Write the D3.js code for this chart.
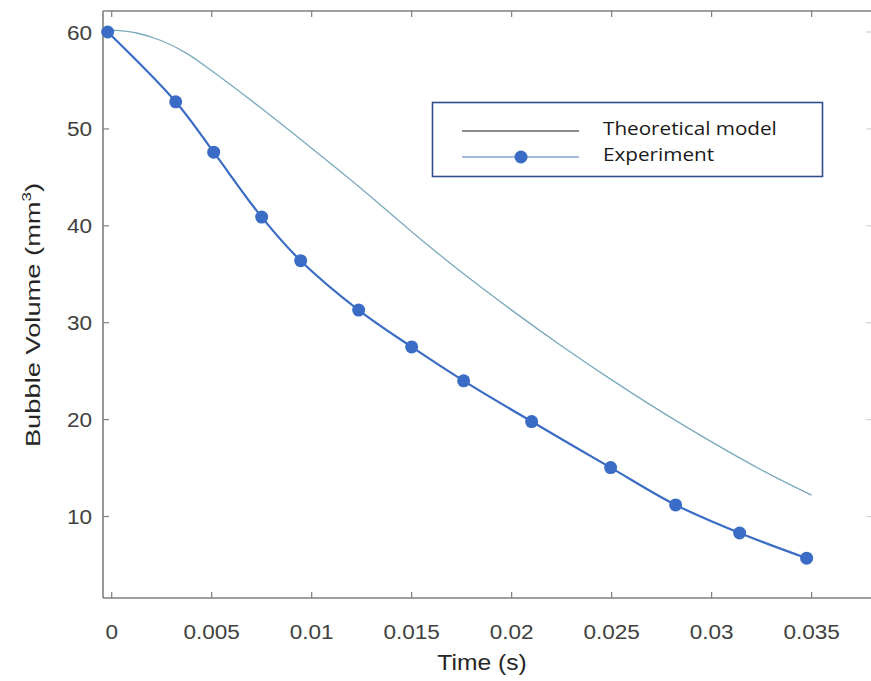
<!DOCTYPE html>
<html>
<head>
<meta charset="utf-8">
<script src="https://cdn.jsdelivr.net/npm/d3@7"></script>
<style>
  body { margin: 0; background: #fff; }
  svg { display: block; }
</style>
</head>
<body>
<svg id="chart" width="871" height="681"></svg>
<script>
// experiment points (time s, volume mm3)
var expTime = [-0.0002, 0.0032, 0.0051, 0.0075, 0.00945, 0.01235, 0.015, 0.0176, 0.021, 0.02495, 0.0282, 0.0314, 0.03475];
var expVol  = [60.0, 52.8, 47.6, 40.9, 36.4, 31.3, 27.5, 24.0, 19.8, 15.05, 11.2, 8.3, 5.7];

// theoretical model curve
var modelTime = [0, 0.00125, 0.0025, 0.00375, 0.005, 0.0075, 0.01, 0.0125, 0.015, 0.0175, 0.02, 0.0225, 0.025, 0.0275, 0.03, 0.0325, 0.035];
var modelVol  = [60.2, 59.9, 59.1, 57.8, 56.0, 52.1, 48.0, 43.8, 39.4, 35.2, 31.3, 27.6, 24.1, 20.8, 17.7, 14.8, 12.2];

var xTicks = [0, 0.005, 0.01, 0.015, 0.02, 0.025, 0.03, 0.035];
var yTicks = [10, 20, 30, 40, 50, 60];
var legendLabels = ["Theoretical model", "Experiment"];

var svg = d3.select("#chart");
var pLeft = 103, pRight = 873, pTop = 11, pBottom = 598;

var x = d3.scaleLinear().domain([-0.000435, 0.03807]).range([pLeft, pRight]);
var y = d3.scaleLinear().domain([1.59, 62.17]).range([pBottom, pTop]);

var axisColor = "#7f7f7f";
var tickFont = "Liberation Sans, Arial, sans-serif";

// frame lines
var frame = svg.append("g").attr("stroke", axisColor).attr("stroke-width", 1.6).attr("fill", "none");
frame.append("line").attr("x1", pLeft).attr("x2", pRight).attr("y1", pBottom).attr("y2", pBottom);
frame.append("line").attr("x1", pLeft).attr("x2", pRight).attr("y1", pTop).attr("y2", pTop);
frame.append("line").attr("x1", pLeft).attr("x2", pLeft).attr("y1", pTop).attr("y2", pBottom);

// ticks (inward)
var tk = svg.append("g").attr("stroke", axisColor).attr("stroke-width", 1.2);
xTicks.forEach(function (t) {
    tk.append("line").attr("x1", x(t)).attr("x2", x(t)).attr("y1", pBottom).attr("y2", pBottom - 6);
    tk.append("line").attr("x1", x(t)).attr("x2", x(t)).attr("y1", pTop).attr("y2", pTop + 6);
});
yTicks.forEach(function (v) {
    tk.append("line").attr("x1", pLeft).attr("x2", pLeft + 6).attr("y1", y(v)).attr("y2", y(v));
    tk.append("line").attr("x1", 871).attr("x2", 866).attr("y1", y(v)).attr("y2", y(v)).attr("stroke-opacity", 0.35);
});

// tick labels (slightly stretched horizontally like the source image)
svg.append("g").selectAll("text").data(xTicks).join("text")
    .attr("transform", function (d) { return "translate(" + x(d) + ",639) scale(1.1,1)"; })
    .attr("text-anchor", "middle")
    .attr("font-family", tickFont).attr("font-size", 20.5).attr("fill", "#404040")
    .text(function (d) { return d3.format("")(d); });

svg.append("g").selectAll("text").data(yTicks).join("text")
    .attr("transform", function (d) { return "translate(92," + (y(d) + 7.5) + ") scale(1.1,1)"; })
    .attr("text-anchor", "end")
    .attr("font-family", tickFont).attr("font-size", 20.5).attr("fill", "#404040")
    .text(function (d) { return d; });

// axis titles
svg.append("text")
    .attr("transform", "translate(482,670) scale(1.12,1)")
    .attr("text-anchor", "middle")
    .attr("font-family", tickFont).attr("font-size", 22).attr("fill", "#262626")
    .text("Time (s)");

var yl = svg.append("text")
    .attr("transform", "translate(40,315) rotate(-90) scale(1.3,1)")
    .attr("text-anchor", "middle")
    .attr("font-family", tickFont).attr("font-size", 21).attr("fill", "#262626");
yl.append("tspan").text("Bubble Volume (mm");
yl.append("tspan").attr("font-size", 13).attr("dy", -9).text("3");
yl.append("tspan").attr("dy", 9).text(")");

// model line
var modelData = modelTime.map(function (t, i) { return [t, modelVol[i]]; });
svg.append("path")
    .datum(modelData)
    .attr("fill", "none")
    .attr("stroke", "#7aa9bd")
    .attr("stroke-width", 1.3)
    .attr("d", d3.line().x(function (d) { return x(d[0]); }).y(function (d) { return y(d[1]); }).curve(d3.curveCatmullRom));

// experiment line + markers
var expData = expTime.map(function (t, i) { return [t, expVol[i]]; });
var blue = "#3a6cc6";
svg.append("path")
    .datum(expData)
    .attr("fill", "none")
    .attr("stroke", blue)
    .attr("stroke-width", 2.2)
    .attr("d", d3.line().x(function (d) { return x(d[0]); }).y(function (d) { return y(d[1]); }).curve(d3.curveCatmullRom));

svg.append("g").selectAll("circle").data(expData).join("circle")
    .attr("cx", function (d) { return x(d[0]); })
    .attr("cy", function (d) { return y(d[1]); })
    .attr("r", 6.5)
    .attr("fill", blue);

// legend
var lg = svg.append("g");
lg.append("rect").attr("x", 432.5).attr("y", 102.5).attr("width", 390).attr("height", 74)
    .attr("fill", "#fff").attr("stroke", "#2f4e8e").attr("stroke-width", 1.6);
lg.append("line").attr("x1", 462).attr("x2", 579).attr("y1", 131).attr("y2", 131)
    .attr("stroke", "#1a1a1a").attr("stroke-width", 1.2);
lg.append("line").attr("x1", 462).attr("x2", 579).attr("y1", 157).attr("y2", 157)
    .attr("stroke", "#4a74c0").attr("stroke-width", 1);
lg.append("circle").attr("cx", 521).attr("cy", 157).attr("r", 6.5).attr("fill", blue);
lg.selectAll("text.lab").data(legendLabels).join("text")
    .attr("class", "lab")
    .attr("transform", function (d, i) { return "translate(603," + (135 + i * 26) + ") scale(1.15,1)"; })
    .attr("font-family", "Open Sans, sans-serif").attr("font-size", 18).attr("fill", "#1a1a1a")
    .text(function (d) { return d; });
</script>
</body>
</html>
